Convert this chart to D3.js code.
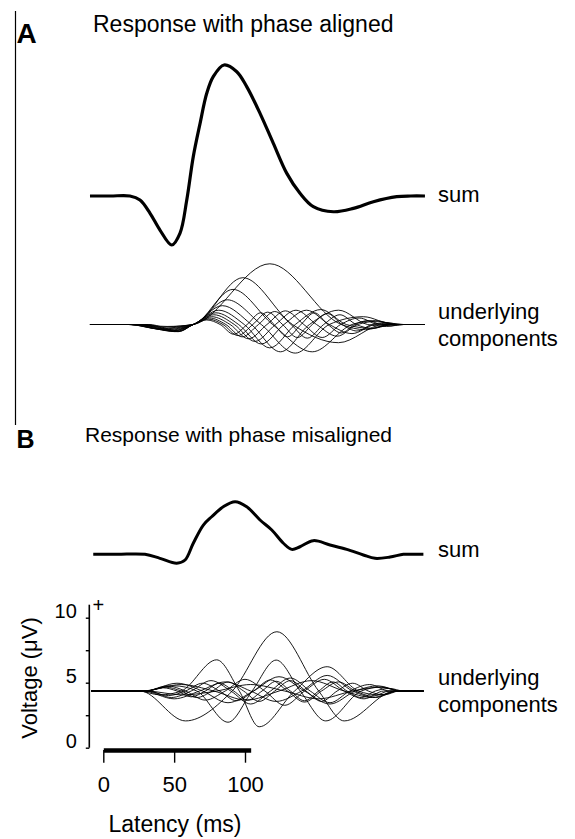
<!DOCTYPE html>
<html>
<head>
<meta charset="utf-8">
<script src="https://cdn.jsdelivr.net/npm/d3@7"></script>
<style>
  body { margin: 0; background: #fff; }
  text { font-family: "Liberation Sans", Arial, sans-serif; fill: #000; }
</style>
</head>
<body>
<div id="chart"></div>
<script>
// latency in ms, voltage in uV (relative to each trace's own baseline)
const latencyTicks = [0, 50, 100];
const voltageTicks = [0, 2.5, 5, 7.5, 10];
const voltageTickLabels = ["0", "", "5", "", "10"];
const componentBaselineB = 4.36; // uV on the labelled axis

// summed response, phase aligned
const sumAligned = [
  [-9.4, 0], [5, 0], [18.8, 0], [25.9, -0.31], [33, -1.33], [40, -2.62], [48.3, -3.77],
  [54.1, -2.87], [58.9, -0.31], [63.5, 3.03], [68.3, 5.59], [73, 7.9], [77.6, 9.18],
  [85.2, 10.08], [94.2, 9.56], [101.2, 8.41], [110.6, 6.36], [120, 4.05], [129.5, 1.74],
  [138.8, 0.21], [148.2, -0.82], [162.4, -1.21], [176.5, -0.95], [190.6, -0.44],
  [207.1, -0.05], [217, 0], [227, 0]
];

// underlying components, phase aligned
const compsAligned = [
  [[-9.4,0],[20,0],[45,-0.15],[63.5,0],[117.5,4.67],[168,0],[185,-0.4],[203,0],[227,0]],
  [[-9.4,0],[20,0],[40,-0.2],[63.5,0],[98.5,3.6],[133.5,0],[166,-1.4],[198,0],[227,0]],
  [[-9.4,0],[20,0],[38,-0.3],[63.5,0],[91.5,2.7],[119.5,0],[147.5,-2.1],[175.5,0],[192,0.3],[207,0],[227,0]],
  [[-9.4,0],[18,0],[40,-0.35],[63.5,0],[87.5,1.9],[111.5,0],[135.5,-2.2],[159.5,0],[183.5,0.6],[205,0],[227,0]],
  [[-9.4,0],[18,0],[43,-0.4],[63.5,0],[84,1.45],[104.5,0],[125,-2.1],[145.5,0],[166,1.1],[186.5,0],[200,-0.15],[212,0],[227,0]],
  [[-9.4,0],[20,0],[45.5,-0.45],[63.5,0],[81.5,1.1],[99.5,0],[117.5,-1.8],[135.5,0],[153.5,1.15],[171.5,0],[189.5,-0.3],[205,0],[227,0]],
  [[-9.4,0],[22,0],[47.5,-0.5],[63.5,0],[79.5,0.9],[95.5,0],[111.5,-1.5],[127.5,0],[143.5,1.1],[159.5,0],[175.5,-0.7],[191.5,0],[201,0.1],[212,0],[227,0]],
  [[-9.4,0],[24,0],[49,-0.5],[63.5,0],[78,0.75],[92.5,0],[107,-1.3],[121.5,0],[136,1.1],[150.5,0],[165,-0.9],[179.5,0],[194,0.25],[206,0],[227,0]],
  [[-9.4,0],[26,0],[50.5,-0.55],[63.5,0],[76.5,0.6],[89.5,0],[102.5,-1.1],[115.5,0],[128.5,1.05],[141.5,0],[154.5,-1.0],[167.5,0],[180.5,0.5],[193.5,0],[203,-0.1],[212,0],[227,0]],
  [[-9.4,0],[28,0],[52,-0.55],[63.5,0],[75,0.5],[86.5,0],[98,-0.95],[109.5,0],[121,1.0],[132.5,0],[144,-1.05],[155.5,0],[167,0.75],[178.5,0],[190,-0.3],[201.5,0],[212,0],[227,0]],
  [[-9.4,0],[30,0],[53,-0.55],[63.5,0],[74,0.42],[84.5,0],[95,-0.85],[105.5,0],[116,0.95],[126.5,0],[137,-1.0],[147.5,0],[158,0.85],[168.5,0],[179,-0.5],[189.5,0],[200,0.15],[210,0],[227,0]],
  [[-9.4,0],[32,0],[54,-0.5],[63.5,0],[73,0.35],[82.5,0],[92,-0.75],[101.5,0],[111,0.9],[120.5,0],[130,-0.95],[139.5,0],[149,0.9],[158.5,0],[168,-0.65],[177.5,0],[187,0.3],[196.5,0],[205,0],[227,0]]
];

// summed response, phase misaligned
const sumMisaligned = [
  [-7.1, 0], [10, 0], [29.4, 0], [40, -0.31], [51.8, -0.69], [57.7, -0.44], [63.5, 0.85],
  [70.6, 2.25], [76.5, 2.89], [84.7, 3.66], [93, 4.05], [101.2, 3.66], [110.6, 2.64],
  [118.9, 1.87], [127.1, 0.85], [133, 0.38], [138.8, 0.58], [148.2, 1.05], [160, 0.72],
  [171.8, 0.38], [183.5, -0.05], [191.8, -0.31], [202.4, -0.21], [211.8, 0], [218, 0], [225.9, 0]
];

// underlying components, phase misaligned
const compsMisaligned = [
  [[-8.5,0],[26,0],[58,-2.3],[91,0],[122.5,4.56],[152,0],[170,-2.3],[206,0],[226,0]],
  [[-8.5,0],[25,0],[40,-0.3],[55,0],[80,2.4],[96,0],[110,-2.75],[135,0],[158,1.87],[180,0],[195,-0.3],[208,0],[226,0]],
  [[-8.5,0],[28,0],[50,0.4],[66,0],[88,-2.4],[105,0],[122,2.38],[139,0],[157,-2.3],[182,0],[196,0.3],[210,0],[226,0]],
  [[-8.5,0],[30,0],[52,0.6],[70,0],[88,-0.9],[106,0],[124,1.1],[142,0],[160,-1.0],[178,0],[194,0.4],[210,0],[226,0]],
  [[-8.5,0],[32,0],[48,-0.5],[62,0],[76,0.8],[90,0],[104,-1.0],[118,0],[132,1.0],[146,0],[160,-0.9],[174,0],[188,0.5],[202,0],[226,0]],
  [[-8.5,0],[30,0],[45,0.4],[58,0],[72,-0.7],[86,0],[100,0.9],[114,0],[128,-1.1],[142,0],[156,0.9],[170,0],[184,-0.6],[198,0],[226,0]],
  [[-8.5,0],[28,0],[50,-0.6],[68,0],[86,0.7],[104,0],[122,-0.8],[140,0],[158,1.2],[176,0],[192,-0.5],[208,0],[226,0]],
  [[-8.5,0],[30,0],[44,0.3],[55,0],[66,-0.5],[77,0],[88,0.7],[99,0],[110,-0.8],[121,0],[132,0.8],[143,0],[154,-0.8],[165,0],[176,0.6],[187,0],[198,-0.3],[209,0],[226,0]],
  [[-8.5,0],[30,0],[46,-0.35],[58,0],[70,0.6],[82,0],[94,-0.75],[106,0],[118,0.85],[130,0],[142,-0.85],[154,0],[166,0.7],[178,0],[190,-0.4],[202,0],[226,0]],
  [[-8.5,0],[28,0],[55,0.5],[78,0],[101,-0.7],[124,0],[147,0.8],[170,0],[190,-0.5],[208,0],[226,0]],
  [[-8.5,0],[30,0],[56,-0.3],[80,0],[104,0.5],[128,0],[152,-0.6],[176,0],[196,0.3],[210,0],[226,0]],
  [[-8.5,0],[30,0],[42,0.25],[52,0],[62,-0.45],[72,0],[82,0.6],[92,0],[102,-0.7],[112,0],[122,0.75],[132,0],[142,-0.75],[152,0],[162,0.7],[172,0],[182,-0.5],[192,0],[202,0.2],[212,0],[226,0]]
];

const width = 575;
const height = 839;

const svg = d3.select("#chart").append("svg")
  .attr("width", width)
  .attr("height", height);

svg.append("rect").attr("width", width).attr("height", height).attr("fill", "#fff");

// shared latency scale
const x = d3.scaleLinear().domain([0, 100]).range([103.3, 245]);

// one y scale per trace, same gain (13 px per uV)
function traceY(base) {
  return d3.scaleLinear().domain([0, 10]).range([base, base - 130]);
}
const yVolt = d3.scaleLinear().domain([0, 10]).range([747.7, 617.7]);

function drawTrace(data, y, strokeWidth, curve) {
  const line = d3.line()
    .x(d => x(d[0]))
    .y(d => y(d[1]))
    .curve(curve || d3.curveMonotoneX);
  svg.append("path")
    .attr("fill", "none")
    .attr("stroke", "#000")
    .attr("stroke-width", strokeWidth)
    .attr("stroke-linejoin", "round")
    .attr("d", line(data));
}

// left border line of panel A
svg.append("line")
  .attr("x1", 15.5).attr("x2", 15.5)
  .attr("y1", 11).attr("y2", 425)
  .attr("stroke", "#000").attr("stroke-width", 1.2);

// ---- panel A
svg.append("text").attr("x", 16.5).attr("y", 42.7)
  .style("font-size", "28px").style("font-weight", "bold").text("A");
svg.append("text").attr("x", 93).attr("y", 31.7)
  .style("font-size", "23px").text("Response with phase aligned");

drawTrace(sumAligned, traceY(196), 3.2, d3.curveCatmullRom.alpha(0.5));
const yCompA = traceY(324.5);
compsAligned.forEach(c => drawTrace(c, yCompA, 0.9));

svg.append("text").attr("x", 438).attr("y", 202.3).style("font-size", "22px").text("sum");
svg.append("text").attr("x", 438).attr("y", 319).style("font-size", "22px").text("underlying");
svg.append("text").attr("x", 438).attr("y", 345.7).style("font-size", "22px").text("components");

// ---- panel B
svg.append("text").attr("x", 16.5).attr("y", 448)
  .style("font-size", "25px").style("font-weight", "bold").text("B");
svg.append("text").attr("x", 85).attr("y", 441.7)
  .style("font-size", "21px").text("Response with phase misaligned");

drawTrace(sumMisaligned, traceY(554.3), 3, d3.curveCatmullRom.alpha(0.5));
compsMisaligned.forEach(c => drawTrace(c, d => yVolt(componentBaselineB + d), 0.9));

svg.append("text").attr("x", 438).attr("y", 557.3).style("font-size", "22px").text("sum");
svg.append("text").attr("x", 438).attr("y", 685).style("font-size", "22px").text("underlying");
svg.append("text").attr("x", 438).attr("y", 711.7).style("font-size", "22px").text("components");

// y axis (voltage)
const yAxis = svg.append("g")
  .attr("transform", "translate(89.3,0)")
  .call(d3.axisLeft(yVolt)
    .tickValues(voltageTicks)
    .tickSize(3.5)
    .tickPadding(9)
    .tickFormat((d, i) => voltageTickLabels[i]));
yAxis.select(".domain").remove();
yAxis.append("line")
  .attr("x1", 0).attr("x2", 0)
  .attr("y1", yVolt(0)).attr("y2", yVolt(11))
  .attr("stroke", "#000").attr("stroke-width", 1.6);
yAxis.selectAll(".tick line").attr("stroke-width", 1.4);
yAxis.selectAll(".tick text")
  .attr("dy", "0")
  .style("font-size", "20px")
  .style("font-family", "'Liberation Sans', Arial, sans-serif");

svg.append("text").attr("x", 98.3).attr("y", 612)
  .attr("text-anchor", "middle").style("font-size", "20px").text("+");

svg.append("text")
  .attr("transform", "translate(37,678) rotate(-90)")
  .attr("text-anchor", "middle")
  .style("font-size", "22px")
  .text("Voltage (\u03BCV)");

// x axis (latency) drawn as a thick bar to ~104 ms
const xBar = x.copy().domain([0, 104]).range([x(0), x(104)]);
const xAxis = svg.append("g")
  .attr("transform", "translate(0,750)")
  .call(d3.axisBottom(xBar)
    .tickValues(latencyTicks)
    .tickSize(12.7)
    .tickSizeOuter(0)
    .tickPadding(13.3));
xAxis.select(".domain").attr("stroke-width", 4.7);
xAxis.selectAll(".tick line").attr("stroke-width", 1.4);
xAxis.selectAll(".tick text")
  .style("font-size", "22px")
  .style("font-family", "'Liberation Sans', Arial, sans-serif");

svg.append("text").attr("x", 175).attr("y", 832)
  .attr("text-anchor", "middle").style("font-size", "23px").text("Latency (ms)");
</script>
</body>
</html>
